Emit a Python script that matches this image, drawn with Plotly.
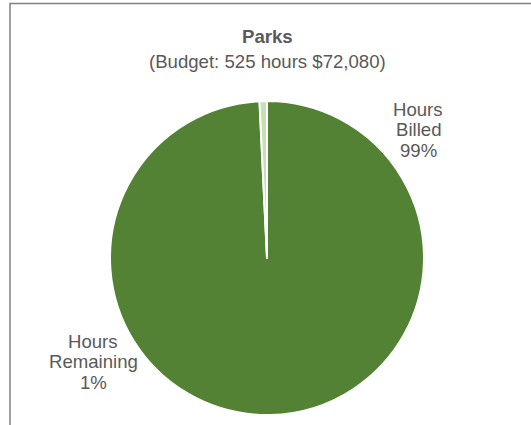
import plotly.graph_objects as go

categories = ["Hours Billed", "Hours Remaining"]
hours = [521, 4]
pct_labels = ["99%", "1%"]
colors = ["#548235", "#C5E0B4"]
title = "Parks"
subtitle = "(Budget: 525 hours $72,080)"

W, H = 531, 425
fig = go.Figure(go.Pie(
    labels=categories, values=hours, sort=False, direction="clockwise", rotation=0,
    marker=dict(colors=colors, line=dict(color="white", width=2)),
    textinfo="none", hoverinfo="label+percent",
    domain=dict(x=[110 / W, 424 / W], y=[10 / H, 324 / H]),
    showlegend=False,
))

font = "Liberation Sans, Arial, sans-serif"
col = "#595959"
fs = 18.6


def ann(x, y, text):
    return dict(x=x / W, y=1 - y / H, text=text, xref="paper", yref="paper", showarrow=False,
                xanchor="center", yanchor="middle", font=dict(size=fs, color=col, family=font))


anns = [ann(267, 37, "<b>" + title + "</b>"), ann(267, 61, subtitle)]
label_pos = [(418, 109), (93, 341)]
for cat, pct, (lx, ly) in zip(categories, pct_labels, label_pos):
    lines = cat.split(" ") + [pct]
    for i, line in enumerate(lines):
        anns.append(ann(lx, ly + 20.5 * i, line))

fig.update_layout(
    width=W, height=H, margin=dict(l=0, r=0, t=0, b=0),
    paper_bgcolor="white", plot_bgcolor="white",
    annotations=anns,
    shapes=[dict(type="rect", xref="paper", yref="paper", x0=10 / W, x1=1.02, y0=-0.02, y1=1 - 3.5 / H,
                 line=dict(color="#808080", width=1.5), fillcolor="rgba(0,0,0,0)")],
)
fig.write_html("out.html")
